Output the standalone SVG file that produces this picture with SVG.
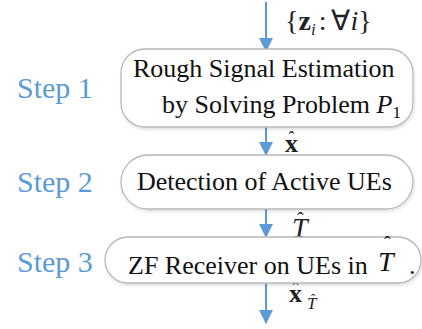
<svg xmlns="http://www.w3.org/2000/svg" width="422" height="329" viewBox="0 0 422 329">
<defs>
<filter id="sh" x="-10%" y="-20%" width="120%" height="150%">
<feDropShadow dx="1" dy="2" stdDeviation="1.5" flood-color="#000" flood-opacity="0.12"/>
</filter>
<marker id="ah" viewBox="0 0 14 14" refX="13" refY="7" markerWidth="14" markerHeight="14" markerUnits="userSpaceOnUse" orient="auto">
<path d="M0,0 L14,7 L0,14 Z" fill="#5B9BD5"/>
</marker>
</defs>
<rect width="422" height="329" fill="#fff"/>

<g id="connectors" stroke="#5B9BD5" stroke-width="2" fill="none">
<line x1="266" y1="2" x2="266" y2="51" marker-end="url(#ah)"/>
<line x1="266" y1="127" x2="266" y2="155" marker-end="url(#ah)"/>
<line x1="266" y1="209" x2="266" y2="237" marker-end="url(#ah)"/>
<line x1="266" y1="283" x2="266" y2="323" marker-end="url(#ah)"/>
</g>

<g id="labels">
<text style="font-family:'Liberation Serif'" font-size="28" fill="#222" stroke="none" x="285" y="30">{<tspan font-weight="bold">z</tspan><tspan font-style="italic" font-size="17" dy="5">i</tspan><tspan dy="-5" dx="3">:</tspan><tspan dx="5">&#8704;</tspan><tspan font-style="italic">i</tspan>}</text>
<text id="lbl-xhat" style="font-family:'Liberation Serif'" font-size="26" fill="#222" x="285" y="152"><tspan font-weight="bold">x</tspan><tspan font-size="18" x="288.5" y="144">&#710;</tspan></text>
<text id="lbl-That" style="font-family:'Liberation Serif'" font-size="28" fill="#222" x="292" y="237"><tspan font-style="italic">T</tspan><tspan font-size="20" x="297" y="227">&#710;</tspan></text>
<text id="lbl-xT" style="font-family:'Liberation Serif'" font-size="26" fill="#222" x="289" y="302"><tspan font-weight="bold">x</tspan><tspan font-size="18" x="292.5" y="295">&#710;</tspan><tspan font-style="italic" font-size="17" x="307" y="309">T</tspan><tspan font-size="13" x="311" y="303">&#710;</tspan></text>
</g>

<g id="step1">
<text style="font-family:'Liberation Serif'" font-size="30" fill="#5B9BD5" x="17" y="98">Step 1</text>
<rect x="121" y="49" width="292" height="78" rx="24" fill="#fff" stroke="#b8b8b8" stroke-width="1.3" filter="url(#sh)"/>
<text style="font-family:'Liberation Serif'" font-size="26" fill="#111" x="133" y="77">Rough Signal Estimation</text>
<text style="font-family:'Liberation Serif'" font-size="26" fill="#111" x="162" y="113">by Solving Problem <tspan font-style="italic">P</tspan><tspan font-size="17" dy="5">1</tspan></text>
</g>

<g id="step2">
<text style="font-family:'Liberation Serif'" font-size="30" fill="#5B9BD5" x="17" y="192">Step 2</text>
<rect x="121" y="155" width="292" height="54" rx="27" fill="#fff" stroke="#b8b8b8" stroke-width="1.3" filter="url(#sh)"/>
<text style="font-family:'Liberation Serif'" font-size="26" fill="#111" x="137" y="190">Detection of Active UEs</text>
</g>

<g id="step3">
<text style="font-family:'Liberation Serif'" font-size="30" fill="#5B9BD5" x="17" y="272">Step 3</text>
<rect x="105" y="237" width="316" height="46" rx="23" fill="#fff" stroke="#b8b8b8" stroke-width="1.3" filter="url(#sh)"/>
<text style="font-family:'Liberation Serif'" font-size="26" fill="#111" x="128" y="274">ZF Receiver on UEs in <tspan font-style="italic" font-size="28" x="378" y="271">T</tspan><tspan font-size="20" x="384" y="251">&#710;</tspan><tspan x="409" y="274">.</tspan></text>
</g>
</svg>
